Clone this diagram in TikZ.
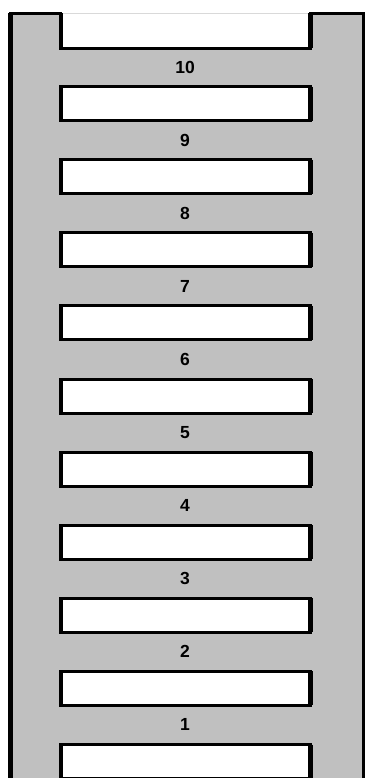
\documentclass[tikz,border=0pt]{standalone}
\usepackage{fontspec}
\newfontfamily\numfont{Liberation Sans}
\usepackage{xcolor}
\usepackage{tikz}
\definecolor{rungray}{HTML}{C0C0C0}

\begin{document}
\begin{tikzpicture}[x=1pt, y=-1pt,
  hole/.style={draw, fill=white, line width=3pt, minimum width=249.7pt, minimum height=34pt, inner sep=0pt, outer sep=0pt},
  num/.style={font=\numfont\bfseries\fontsize{17.5}{17.5}\selectfont, inner sep=0pt},
  rail/.style={line width=3pt}]
  \useasboundingbox (0,0) rectangle (367,778);
  \clip (0,0) rectangle (367,778);
  % frame with the open slot at the top
  \fill[rungray] (10,800) -- (10,13.3) -- (60.8,13.3) -- (60.8,48.5) -- (310.5,48.5)
    -- (310.5,13.3) -- (363.5,13.3) -- (363.5,800) -- cycle;
  \draw[gray!30, line width=1pt] (60.8,13.3) -- (310.5,13.3);
  \draw[rail] (10,800) -- (10,13.3) -- (60.8,13.3) -- (60.8,48.5) -- (310.5,48.5)
    -- (310.5,13.3) -- (363.5,13.3) -- (363.5,800);
  \draw[line width=5pt] (10,800) -- (10,13.3);
  \draw[line width=4.5pt] (60.8,13.3) -- (60.8,48.5);
  \draw[line width=4.5pt] (310.5,13.3) -- (310.5,48.5);
  % slots
  \foreach \k in {1,...,10} {
    \node[hole] (h\k) at (185.65, 30.5+73.1*\k) {};
    \draw[line width=4.5pt] (h\k.north west) -- (h\k.south west);
    \draw[line width=4.5pt] (h\k.north east) -- (h\k.south east);
  }
  % rung numbers
  \foreach \k in {0,...,9} {
    \pgfmathtruncatemacro\n{10-\k}
    \node[num] (lab\n) at (185, 67.05+73.1*\k) {\n};
  }
\end{tikzpicture}
\end{document}
